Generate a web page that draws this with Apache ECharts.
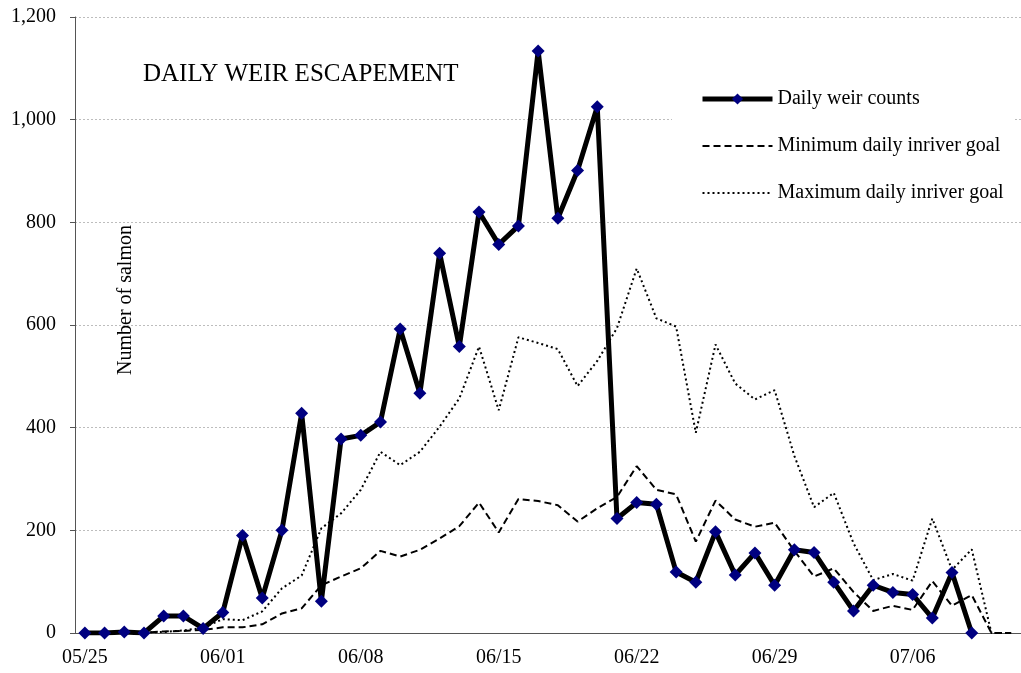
<!DOCTYPE html>
<html>
<head>
<meta charset="utf-8">
<script src="https://cdn.jsdelivr.net/npm/echarts@6/dist/echarts.min.js"></script>
<style>
html,body{margin:0;padding:0;background:#fff;}
#chart{width:1021px;height:673px;}
</style>
</head>
<body>
<div id="chart"></div>
<script>
const dates = ['05/25','05/26','05/27','05/28','05/29','05/30','05/31',
  '06/01','06/02','06/03','06/04','06/05','06/06','06/07',
  '06/08','06/09','06/10','06/11','06/12','06/13','06/14',
  '06/15','06/16','06/17','06/18','06/19','06/20','06/21',
  '06/22','06/23','06/24','06/25','06/26','06/27','06/28',
  '06/29','06/30','07/01','07/02','07/03','07/04','07/05',
  '07/06','07/07','07/08','07/09','07/10','07/11'];

const dailyCounts = [0,0,2,0,33,33,9,
  40,190,68,200,428,62,378,
  385,411,592,467,740,558,820,
  757,793,1134,808,901,1025,223,
  254,251,119,99,197,113,156,
  93,162,157,99,43,93,79,
  75,29,118,0,null,null];

const minGoal = [0,0,0,1,3,4,6,
  11,11,17,38,48,93,110,
  126,160,149,162,184,208,254,
  196,261,257,249,217,243,265,
  325,279,270,178,258,221,207,
  215,160,110,126,80,43,53,
  45,101,53,74,0,0];

const maxGoal = [0,0,0,1,2,5,10,
  27,25,42,87,112,204,233,
  279,353,327,353,402,457,558,
  434,576,565,553,481,530,594,
  710,613,597,390,562,486,455,
  473,345,245,273,175,103,115,
  102,223,123,163,0,0];

const yTicks = {min:0, max:1200, step:200};

const seriesNames = ['Daily weir counts','Minimum daily inriver goal','Maximum daily inriver goal'];
const titleText = 'DAILY WEIR ESCAPEMENT';
const yName = 'Number of salmon';

const FONT = '"Liberation Serif","Times New Roman",serif';

const chart = echarts.init(document.getElementById('chart'), null, {renderer:'canvas'});
chart.setOption({
  animation:false,
  backgroundColor:'#fff',
  title:{
    text:titleText, left:138, top:57,
    textStyle:{fontFamily:FONT,fontSize:25,fontWeight:'normal',color:'#000'}
  },
  legend:{
    orient:'vertical', left:672, top:78,
    padding:[10,10,10,28],
    backgroundColor:'#fff',
    itemWidth:70, itemHeight:14, itemGap:25,
    textStyle:{fontFamily:FONT,fontSize:20,color:'#000',lineHeight:22},
    data:[
      {name:seriesNames[0], lineStyle:{width:5}},
      {name:seriesNames[1], itemStyle:{opacity:0}},
      {name:seriesNames[2], itemStyle:{opacity:0}}
    ]
  },
  graphic:[{
    type:'text', x:126, y:300, rotation:Math.PI/2, z:5,
    style:{text:yName, font:'20px '+FONT, fill:'#000', align:'center', verticalAlign:'middle'}
  }],
  grid:{left:75, right:-20, top:17, bottom:40, containLabel:false},
  xAxis:{
    type:'category', data:dates, boundaryGap:true,
    axisLine:{lineStyle:{color:'#555',width:1}},
    axisTick:{interval:0, length:5, lineStyle:{color:'#555'}},
    axisLabel:{interval:6, fontFamily:FONT, fontSize:20, color:'#000', margin:15},
    splitLine:{show:false}
  },
  yAxis:{
    type:'value', min:yTicks.min, max:yTicks.max, interval:yTicks.step,
    axisLine:{show:true, lineStyle:{color:'#555',width:1}},
    axisTick:{show:true, length:5, lineStyle:{color:'#555'}},
    axisLabel:{fontFamily:FONT, fontSize:20, color:'#000', margin:19,
      formatter:v=>v.toLocaleString('en-US')},
    splitLine:{show:true, lineStyle:{color:'#bdbdbd', width:1, type:[2,2]}}
  },
  series:[
    {
      name:seriesNames[1], type:'line', data:minGoal, symbol:'none', z:2,
      lineStyle:{color:'#000', width:2, type:[7,4]},
      itemStyle:{color:'#000'}
    },
    {
      name:seriesNames[2], type:'line', data:maxGoal, symbol:'none', z:2,
      lineStyle:{color:'#000', width:2, type:[2,3]},
      itemStyle:{color:'#000'}
    },
    {
      name:seriesNames[0], type:'line', data:dailyCounts, z:4,
      symbol:'diamond', symbolSize:13, showAllSymbol:true,
      lineStyle:{color:'#000', width:5},
      itemStyle:{color:'#000080', borderWidth:0}
    }
  ]
});
</script>
</body>
</html>
